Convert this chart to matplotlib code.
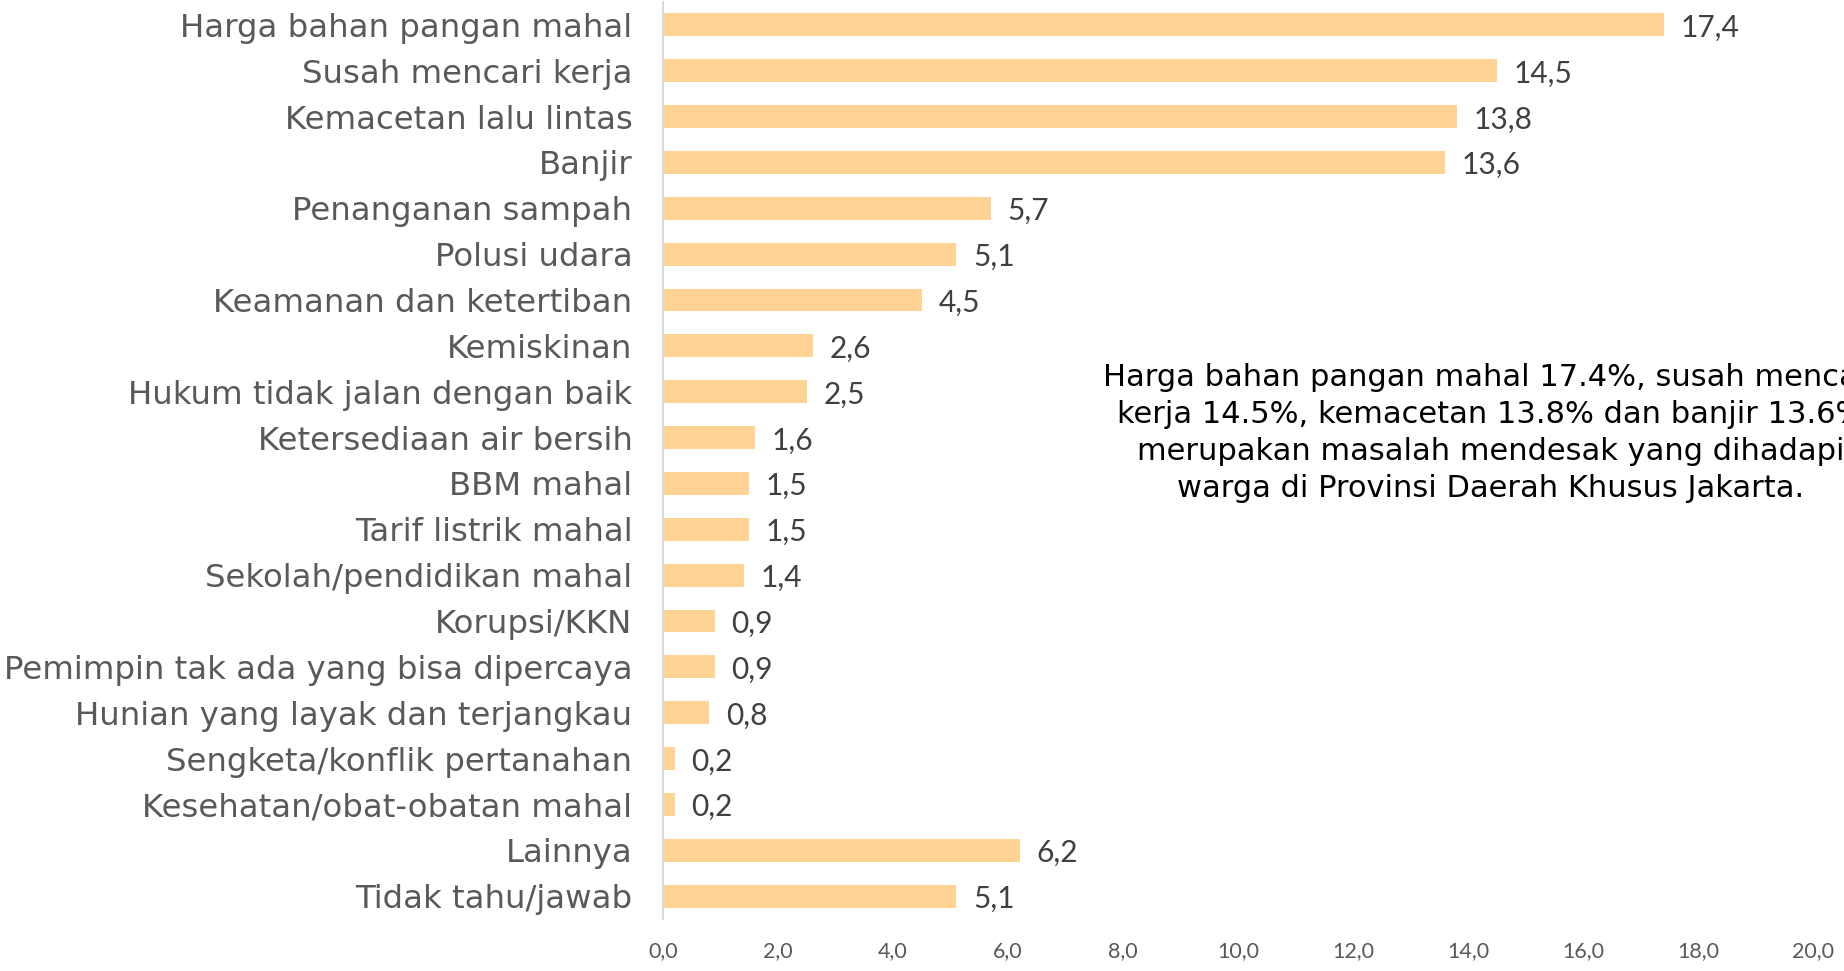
import matplotlib
matplotlib.use("Agg")
import matplotlib.pyplot as plt

categories = [
    "Harga bahan pangan mahal", "Susah mencari kerja", "Kemacetan lalu lintas",
    "Banjir", "Penanganan sampah", "Polusi udara", "Keamanan dan ketertiban",
    "Kemiskinan", "Hukum tidak jalan dengan baik", "Ketersediaan air bersih",
    "BBM mahal", "Tarif listrik mahal", "Sekolah/pendidikan mahal", "Korupsi/KKN",
    "Pemimpin tak ada yang bisa dipercaya", "Hunian yang layak dan terjangkau",
    "Sengketa/konflik pertanahan", "Kesehatan/obat-obatan mahal", "Lainnya",
    "Tidak tahu/jawab",
]
values = [17.4, 14.5, 13.8, 13.6, 5.7, 5.1, 4.5, 2.6, 2.5, 1.6,
          1.5, 1.5, 1.4, 0.9, 0.9, 0.8, 0.2, 0.2, 6.2, 5.1]
xticks = [0, 2, 4, 6, 8, 10, 12, 14, 16, 18, 20]
note_lines = [
    "Harga bahan pangan mahal 17.4%, susah mencari",
    "kerja 14.5%, kemacetan 13.8% dan banjir 13.6%",
    "merupakan masalah mendesak yang dihadapi",
    "warga di Provinsi Daerah Khusus Jakarta.",
]

plt.rcParams['font.family'] = ['DejaVu Sans']

fig = plt.figure(figsize=(18.44, 9.71), dpi=100)
ax = fig.add_axes([663/1844, 1-919/971, 1150/1844, 917/971])

ypos = list(range(len(categories)))
ax.barh(ypos, values, height=0.5, color="#FFD393")
ax.set_ylim(len(categories)-0.5, -0.5)
ax.set_xlim(0, 20)
ax.set_yticks(ypos)
ax.set_yticklabels(categories, fontsize=23.3, color="#595959")
ax.set_xticks(xticks)
ax.set_xticklabels([f"{t:.1f}".replace(".", ",") for t in xticks], fontsize=15.5,
                   color="#595959", family="Lato")
ax.tick_params(axis='both', length=0)
ax.tick_params(axis='y', pad=22)
ax.tick_params(axis='x', pad=16)
for s in ["top", "right", "bottom"]:
    ax.spines[s].set_visible(False)
ax.spines["left"].set_color("#D9D9D9")
ax.spines["left"].set_linewidth(1.5)

for y, v in zip(ypos, values):
    ax.annotate(f"{v:.1f}".replace(".", ","), (v, y), xytext=(12, -2),
                textcoords="offset points", va="center", ha="left",
                fontsize=21.5, color="#404040", family="Lato")

fig.text(1491/1844, 1-433/971, "\n".join(note_lines), ha="center", va="center",
         fontsize=22, color="black", linespacing=1.36)

fig.savefig("out.png", dpi=100)
